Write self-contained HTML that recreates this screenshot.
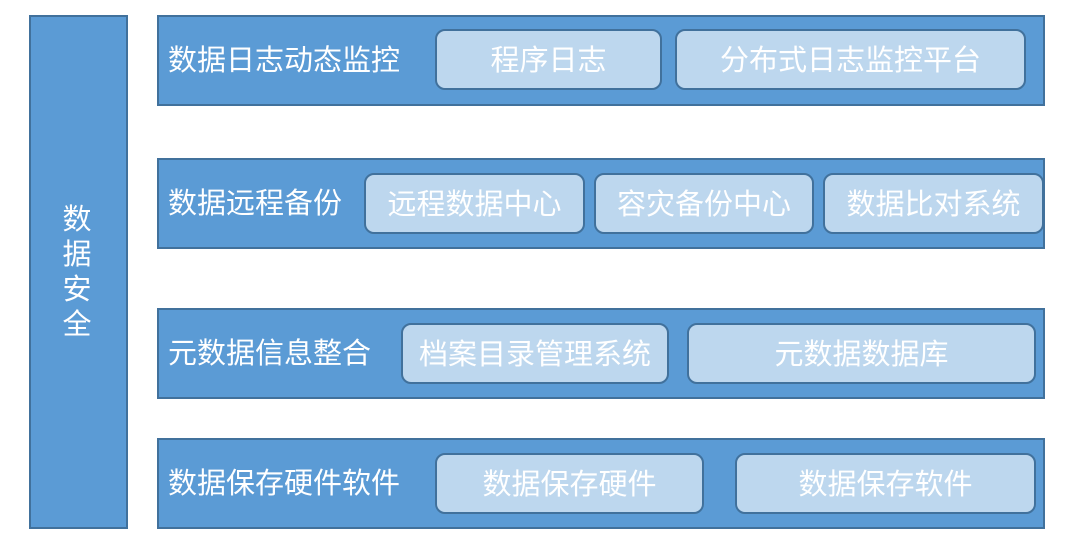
<!DOCTYPE html>
<html><head><meta charset="utf-8"><style>
body{margin:0;width:1080px;height:548px;background:#fff;position:relative;overflow:hidden;font-family:"Liberation Sans","Noto Sans CJK SC",sans-serif;color:#fff}
.b{position:absolute;background:#5B9BD5;border:2px solid #41719C;box-sizing:border-box}
.l{position:absolute;font-size:29px;line-height:32px;white-space:nowrap}
.i{position:absolute;background:#BDD7EE;border:2px solid #41719C;box-sizing:border-box;border-radius:10px;font-size:29px;display:flex;align-items:center;justify-content:center;white-space:nowrap;padding-bottom:4px}
</style></head><body>
<div class="b" style="left:29px;top:15px;width:99px;height:514px"></div>
<div class="l" style="left:62px;top:203px;font-size:29px;line-height:35px;width:30px;white-space:normal;text-align:center">数据安全</div>

<div class="b" style="left:157px;top:15px;width:888px;height:91px"></div>
<div class="l" style="left:168px;top:45px">数据日志动态监控</div>
<div class="i" style="left:435px;top:29px;width:227px;height:61px">程序日志</div>
<div class="i" style="left:675px;top:29px;width:351px;height:61px">分布式日志监控平台</div>

<div class="b" style="left:157px;top:158px;width:888px;height:91px"></div>
<div class="l" style="left:168px;top:188px">数据远程备份</div>
<div class="i" style="left:364px;top:173px;width:221px;height:61px">远程数据中心</div>
<div class="i" style="left:594px;top:173px;width:220px;height:61px">容灾备份中心</div>
<div class="i" style="left:823px;top:173px;width:221px;height:61px">数据比对系统</div>

<div class="b" style="left:157px;top:308px;width:888px;height:91px"></div>
<div class="l" style="left:168px;top:338px">元数据信息整合</div>
<div class="i" style="left:401px;top:323px;width:268px;height:61px">档案目录管理系统</div>
<div class="i" style="left:687px;top:323px;width:349px;height:61px">元数据数据库</div>

<div class="b" style="left:157px;top:438px;width:888px;height:91px"></div>
<div class="l" style="left:168px;top:468px">数据保存硬件软件</div>
<div class="i" style="left:435px;top:453px;width:269px;height:61px">数据保存硬件</div>
<div class="i" style="left:735px;top:453px;width:301px;height:61px">数据保存软件</div>
</body></html>
